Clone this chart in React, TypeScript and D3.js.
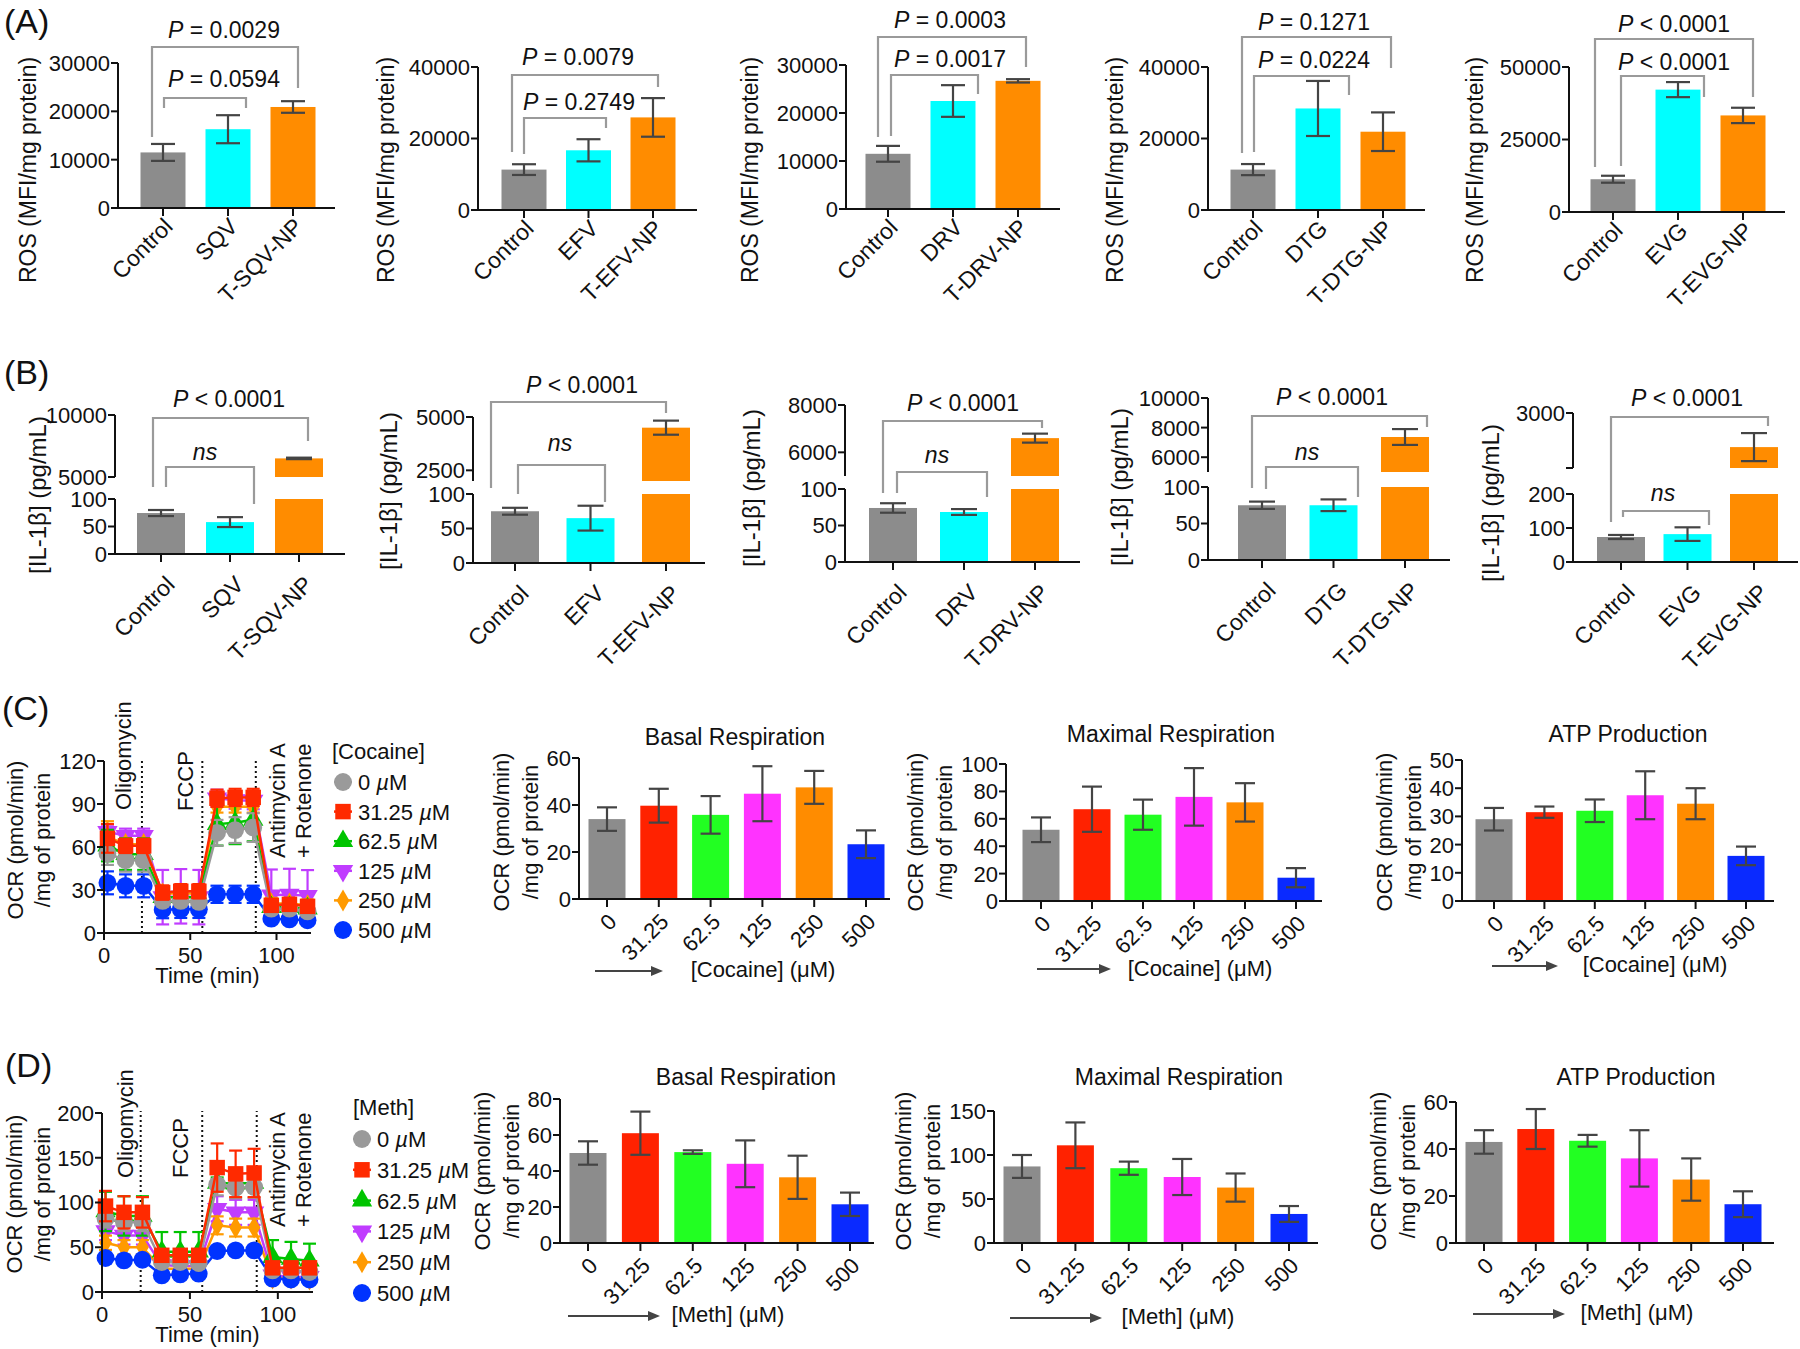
import React from "react";
import * as d3 from "d3";

const FONT = "'Liberation Sans', Arial, Helvetica, sans-serif";
const TXT = "#111";
const AXIS = "#111";
const ERR = "#444";
const BRK = "#9a9a9a";

// ---------------- (A) ROS ----------------
const rosDrugs = ["SQV", "EFV", "DRV", "DTG", "EVG"];
const rosMean = [
  [11500, 16300, 20900],
  [11300, 16700, 25900],
  [11500, 22500, 26700],
  [11300, 28400, 21900],
  [11300, 42200, 33300],
];
const rosSem = [
  [1750, 2900, 1200],
  [1500, 3100, 5400],
  [1650, 3300, 350],
  [1550, 7700, 5400],
  [1200, 2600, 2650],
];
const rosTicks = [
  [0, 10000, 20000, 30000],
  [0, 20000, 40000],
  [0, 10000, 20000, 30000],
  [0, 20000, 40000],
  [0, 25000, 50000],
];
const rosPTop = ["= 0.0029", "= 0.0079", "= 0.0003", "= 0.1271", "< 0.0001"];
const rosPLow = ["= 0.0594", "= 0.2749", "= 0.0017", "= 0.0224", "< 0.0001"];

// ---------------- (B) IL-1β ----------------
const ilMean = [
  [74.5, 58, 6500],
  [75, 65, 4500],
  [74, 68.5, 6600],
  [75, 75, 7365],
  [73.5, 82, 2380],
];
const ilSem = [
  [5.5, 9, 60],
  [5, 18, 330],
  [6.5, 4, 190],
  [5, 8, 535],
  [6, 20, 255],
];
const ilLowMax = [100, 100, 100, 100, 200];
const ilLowTicks = [
  [0, 50, 100],
  [0, 50, 100],
  [0, 50, 100],
  [0, 50, 100],
  [0, 100, 200],
];
const ilHighDomain = [
  [5000, 10000],
  [2000, 5000],
  [5000, 8000],
  [5000, 10000],
  [2000, 3000],
];
const ilHighTicks = [
  [5000, 10000],
  [2500, 5000],
  [6000, 8000],
  [6000, 8000, 10000],
  [2000, 3000],
];
const ilHighLabels = [
  ["5000", "10000"],
  ["2500", "5000"],
  ["6000", "8000"],
  ["6000", "8000", "10000"],
  ["", "3000"],
];
const ilPTop = ["< 0.0001", "< 0.0001", "< 0.0001", "< 0.0001", "< 0.0001"];

const groupColors = ["#8c8c8c", "#00ffff", "#ff8c00"];

// ---------------- (C)/(D) time course ----------------
const doseLabels = ["0", "31.25", "62.5", "125", "250", "500"];
const timePoints = [2, 12.5, 23, 34, 44.5, 55, 65.5, 76, 86.5, 97, 107.5, 118];
const injectTimes = [22, 57, 88];
const cocaineOcr = [
  [55.5, 50.8, 50.8, 22.4, 22.4, 21.7, 69.9, 71.8, 73.6, 17, 17, 15.1],
  [66, 60.8, 60.8, 28.2, 29.1, 29.1, 94, 94.6, 94.6, 19.3, 20, 18.6],
  [61, 55, 55, 25, 25, 25, 76, 77, 79, 18, 18, 17],
  [70.6, 67.8, 67.8, 25, 25.6, 25, 94, 92.7, 92.3, 26.3, 26.8, 25.9],
  [67, 62, 62, 27.5, 27.5, 27.5, 88, 88, 88, 20.5, 20.5, 19.3],
  [35, 32.9, 32.9, 16.3, 16.5, 16.5, 27, 27, 27, 10, 9.5, 8.9],
];
const cocaineOcrErr = [
  [8, 8, 8, 3, 3, 3, 9, 9, 10, 3, 3, 3],
  [10, 5, 5, 5, 5, 5, 6, 6, 6, 4, 4, 4],
  [11, 11, 11, 3, 3, 3, 15, 15, 15, 3, 3, 3],
  [5, 5, 5, 19, 19, 19, 6, 6, 6, 18, 18, 18],
  [11, 4, 4, 4, 4, 4, 4, 4, 4, 4, 4, 4],
  [8, 8, 8, 6, 6, 6, 6, 6, 6, 3, 3, 3],
];
const methOcr = [
  [82, 78, 78, 33.5, 33.5, 32.4, 120, 116.6, 117.3, 24.2, 24.2, 22.3],
  [96, 89, 89, 41, 41, 41, 139, 132, 133, 27, 27, 27],
  [90, 85, 85, 45, 45, 45, 122, 121, 122, 39, 37, 35],
  [68, 63, 63, 30, 29, 29, 93, 89, 89, 18.6, 16.8, 16.8],
  [55, 50, 50, 26, 26, 26, 74.5, 72, 72, 15, 15, 14],
  [38, 35.4, 36, 18.6, 19.7, 20.5, 45.8, 46.5, 46.5, 15, 14, 14],
];
const methOcrErr = [
  [10, 10, 10, 4, 4, 4, 12, 12, 12, 4, 4, 4],
  [17, 18, 17, 6, 6, 6, 27, 26, 27, 5, 5, 5],
  [22, 22, 22, 22, 22, 22, 6, 6, 6, 19, 19, 19],
  [10, 10, 10, 5, 5, 5, 14, 14, 14, 6, 6, 6],
  [8, 8, 8, 4, 4, 4, 10, 10, 10, 5, 5, 5],
  [4, 4, 4, 3, 3, 3, 3, 3, 3, 4, 4, 4],
];
const cocaineYTicks = [0, 30, 60, 90, 120];
const methYTicks = [0, 50, 100, 150, 200];
const timeTicks = [0, 50, 100];
const lineColors = ["#9a9a9a", "#ff2a00", "#00c400", "#c03cff", "#ff9a00", "#0033ff"];
const drawOrder = [3, 4, 2, 5, 0, 1];

// ---------------- (C)/(D) bar summaries ----------------
const barTitles = ["Basal Respiration", "Maximal Respiration", "ATP Production"];
const cocaineBars = [
  [34, 39.7, 35.8, 44.8, 47.5, 23.3],
  [52, 67, 63, 76, 72, 17],
  [29, 31.5, 32, 37.5, 34.5, 16],
];
const cocaineBarsErr = [
  [5, 7.2, 8, 11.7, 7, 5.9],
  [9, 16.5, 11, 21, 14, 7],
  [4, 2, 4, 8.5, 5.5, 3.3],
];
const methBars = [
  [50, 61, 50.5, 44, 36.5, 21.5],
  [87, 111, 85, 75, 63, 33],
  [43, 48.5, 43.5, 36, 27, 16.5],
];
const methBarsErr = [
  [6.5, 12, 1, 13, 12, 6.5],
  [13, 26, 7.5, 20.5, 16, 9],
  [5, 8.5, 2.5, 12, 9, 5.5],
];
const cocaineBarTicks = [
  [0, 20, 40, 60],
  [0, 20, 40, 60, 80, 100],
  [0, 10, 20, 30, 40, 50],
];
const methBarTicks = [
  [0, 20, 40, 60, 80],
  [0, 50, 100, 150],
  [0, 20, 40, 60],
];
const doseColors = ["#8c8c8c", "#ff2200", "#22ff22", "#ff33ff", "#ff8c00", "#0a2aff"];

// ---------------- layout ----------------
const LA = [
  { ax: 118, y0: 208, yTop: 63, c0: 163, c1: 293, end: 335, ylx: 28 },
  { ax: 478, y0: 210, yTop: 67, c0: 524, c1: 653, end: 697, ylx: 386 },
  { ax: 846, y0: 209, yTop: 65, c0: 888, c1: 1018, end: 1060, ylx: 750 },
  { ax: 1208, y0: 210, yTop: 67, c0: 1253, c1: 1383, end: 1425, ylx: 1115 },
  { ax: 1569, y0: 212, yTop: 67, c0: 1613, c1: 1743, end: 1785, ylx: 1475 },
];
const LA_BR = [
  { top: [47, 152, 298, 137, 88, 38, 224], low: [98, 164, 246, 108, 108, 87, 224] },
  { top: [75, 512, 658, 152, 87, 65, 578], low: [118, 524, 606, 154, 128, 110, 579] },
  { top: [37, 878, 1026, 137, 67, 28, 950], low: [75, 891, 978, 136, 94, 67, 950] },
  { top: [37, 1242, 1391, 153, 68, 30, 1314], low: [76, 1254, 1349, 152, 95, 68, 1314] },
  { top: [39, 1595, 1753, 167, 97, 32, 1674], low: [76, 1621, 1704, 166, 97, 70, 1674] },
];
const LB = [
  { ax: 115, y0: 554, yLowTop: 499, yUpBot: 477, yUpTop: 415, c0: 161, c1: 299, end: 345, ylx: 37, yly: 495 },
  { ax: 473, y0: 563, yLowTop: 494, yUpBot: 481, yUpTop: 417, c0: 515, c1: 666, end: 705, ylx: 388, yly: 491 },
  { ax: 845, y0: 562, yLowTop: 489, yUpBot: 476, yUpTop: 405, c0: 893, c1: 1035, end: 1080, ylx: 751, yly: 488 },
  { ax: 1208, y0: 560, yLowTop: 487, yUpBot: 472, yUpTop: 398, c0: 1262, c1: 1405, end: 1450, ylx: 1119, yly: 487 },
  { ax: 1573, y0: 562, yLowTop: 494, yUpBot: 468, yUpTop: 413, c0: 1621, c1: 1754, end: 1798, ylx: 1490, yly: 503 },
];
const LB_BR = [
  { top: [418, 153, 308, 487, 441, 407, 229], low: [467, 166, 254, 487, 504, 460, 205] },
  { top: [402, 491, 666, 488, 413, 393, 582], low: [465, 518, 605, 494, 502, 451, 560] },
  { top: [421, 883, 1042, 493, 428, 411, 963], low: [472, 897, 987, 493, 497, 463, 937] },
  { top: [416, 1252, 1427, 488, 427, 405, 1332], low: [467, 1266, 1358, 489, 497, 460, 1307] },
  { top: [417, 1611, 1768, 522, 426, 406, 1687], low: [511, 1623, 1709, 517, 525, 501, 1663] },
];
const LC = [
  { ax: 579, y0: 899, yTop: 758, c0: 607, c1: 866, end: 890, tx: 735, ty: 745, xtX: 763, xtY: 977, ar1: 595, ar2: 663, arY: 971, ylY: 832 },
  { ax: 1006, y0: 901, yTop: 764, c0: 1041, c1: 1296, end: 1322, tx: 1171, ty: 742, xtX: 1200, xtY: 976, ar1: 1037, ar2: 1111, arY: 969, ylY: 832 },
  { ax: 1462, y0: 901, yTop: 760, c0: 1494, c1: 1746, end: 1774, tx: 1628, ty: 742, xtX: 1655, xtY: 972, ar1: 1492, ar2: 1558, arY: 966, ylY: 832 },
];
const LD = [
  { ax: 560, y0: 1243, yTop: 1099, c0: 588, c1: 850, end: 874, tx: 746, ty: 1085, xtX: 728, xtY: 1322, ar1: 568, ar2: 660, arY: 1316, ylY: 1171 },
  { ax: 994, y0: 1243, yTop: 1111, c0: 1022, c1: 1289, end: 1318, tx: 1179, ty: 1085, xtX: 1178, xtY: 1324, ar1: 1010, ar2: 1102, arY: 1318, ylY: 1171 },
  { ax: 1456, y0: 1243, yTop: 1102, c0: 1484, c1: 1743, end: 1774, tx: 1636, ty: 1085, xtX: 1637, xtY: 1320, ar1: 1473, ar2: 1565, arY: 1314, ylY: 1171 },
];
const LLINE = [
  { ax: 104, y0: 933, yTop: 761, x1: 311, ylA: 15, ylB: 42, ylY: 840, timeY: 983, legX: 343, legTitleX: 332, legTitleY: 759, legY0: 782, legDy: 29.6, oligo: [123, 810], fccp: [185, 811], anti: [277, 858], rot: [303, 858] },
  { ax: 102, y0: 1292, yTop: 1113, x1: 313, ylA: 14, ylB: 42, ylY: 1194, timeY: 1342, legX: 362, legTitleX: 353, legTitleY: 1115, legY0: 1139, legDy: 30.8, oligo: [125, 1178], fccp: [180, 1178], anti: [277, 1227], rot: [303, 1227] },
];

// ---------------- helpers ----------------
function PText({ x, y, rest }: { x: number; y: number; rest: string }) {
  return (
    <text x={x} y={y} textAnchor="middle" fontSize={23}>
      <tspan fontStyle="italic">P</tspan>
      {" " + rest}
    </text>
  );
}

function Bracket({ b }: { b: number[] }) {
  const [y, xL, xR, lL, lR] = b;
  return <path d={`M${xL},${lL}V${y}H${xR}V${lR}`} fill="none" stroke={BRK} strokeWidth={2.2} />;
}

function YAxis({ x, y1, y2, scale, ticks, labels }: any) {
  return (
    <g>
      <line x1={x} x2={x} y1={y1} y2={y2} stroke={AXIS} strokeWidth={2} />
      {ticks.map((t: number, i: number) => (
        <g key={i}>
          <line x1={x - 7} x2={x} y1={scale(t)} y2={scale(t)} stroke={AXIS} strokeWidth={2} />
          {labels[i] ? (
            <text x={x - 8} y={scale(t)} dy="0.36em" textAnchor="end">
              {labels[i]}
            </text>
          ) : null}
        </g>
      ))}
    </g>
  );
}

function ErrBar({ cx, yHi, yLo, cap, color = ERR }: any) {
  return (
    <g stroke={color} strokeWidth={2.2}>
      <line x1={cx} x2={cx} y1={yHi} y2={yLo} />
      <line x1={cx - cap / 2} x2={cx + cap / 2} y1={yHi} y2={yHi} />
      <line x1={cx - cap / 2} x2={cx + cap / 2} y1={yLo} y2={yLo} />
    </g>
  );
}

function XAxisCats({ ax, end, y0, xs, labels, dx, dy, fs }: any) {
  return (
    <g>
      <line x1={ax - 1} x2={end} y1={y0} y2={y0} stroke={AXIS} strokeWidth={2} />
      {xs.map((cx: number, i: number) => (
        <g key={i}>
          <line x1={cx} x2={cx} y1={y0} y2={y0 + 8} stroke={AXIS} strokeWidth={2} />
          <text textAnchor="end" fontSize={fs} transform={`translate(${cx + dx},${y0 + dy}) rotate(-45)`}>
            {labels[i]}
          </text>
        </g>
      ))}
    </g>
  );
}

// ---------------- Row A ----------------
function RosPanel({ i }: { i: number }) {
  const L = LA[i];
  const cats = ["Control", rosDrugs[i], `T-${rosDrugs[i]}-NP`];
  const ticks = rosTicks[i];
  const y = d3.scaleLinear().domain([0, ticks[ticks.length - 1]]).range([L.y0, L.yTop]);
  const x = d3.scalePoint<string>().domain(cats).range([L.c0, L.c1]);
  const bw = 45;
  const br = LA_BR[i];
  return (
    <g>
      {cats.map((c, j) => (
        <rect key={c} x={x(c)! - bw / 2} y={y(rosMean[i][j])} width={bw} height={L.y0 - y(rosMean[i][j])} fill={groupColors[j]} />
      ))}
      {cats.map((c, j) => (
        <ErrBar key={c} cx={x(c)} yHi={y(rosMean[i][j] + rosSem[i][j])} yLo={y(rosMean[i][j] - rosSem[i][j])} cap={24} />
      ))}
      <YAxis x={L.ax} y1={L.y0 + 1} y2={L.yTop} scale={y} ticks={ticks} labels={ticks.map(String)} />
      <XAxisCats ax={L.ax} end={L.end} y0={L.y0} xs={cats.map((c) => x(c))} labels={cats} dx={11} dy={20} fs={23} />
      <text transform={`translate(${L.ylx},170) rotate(-90)`} dy="0.36em" textAnchor="middle" fontSize={23}>
        ROS (MFI/mg protein)
      </text>
      <Bracket b={br.top} />
      <Bracket b={br.low} />
      <PText x={br.top[6]} y={br.top[5]} rest={rosPTop[i]} />
      <PText x={br.low[6]} y={br.low[5]} rest={rosPLow[i]} />
    </g>
  );
}

// ---------------- Row B ----------------
function IlPanel({ i }: { i: number }) {
  const L = LB[i];
  const cats = ["Control", rosDrugs[i], `T-${rosDrugs[i]}-NP`];
  const yLow = d3.scaleLinear().domain([0, ilLowMax[i]]).range([L.y0, L.yLowTop]);
  const yUp = d3.scaleLinear().domain(ilHighDomain[i]).range([L.yUpBot, L.yUpTop]);
  const x = d3.scalePoint<string>().domain(cats).range([L.c0, L.c1]);
  const bw = 48;
  const br = LB_BR[i];
  const lowTicks = ilLowTicks[i];
  const upTicks = ilHighTicks[i];
  return (
    <g>
      {cats.map((c, j) => {
        const m = ilMean[i][j];
        const cx = x(c)!;
        if (m <= ilLowMax[i]) {
          return <rect key={c} x={cx - bw / 2} y={yLow(m)} width={bw} height={L.y0 - yLow(m)} fill={groupColors[j]} />;
        }
        return (
          <g key={c}>
            <rect x={cx - bw / 2} y={L.yLowTop} width={bw} height={L.y0 - L.yLowTop} fill={groupColors[j]} />
            <rect x={cx - bw / 2} y={yUp(m)} width={bw} height={L.yUpBot - yUp(m)} fill={groupColors[j]} />
          </g>
        );
      })}
      {cats.map((c, j) => {
        const m = ilMean[i][j];
        const s = ilSem[i][j];
        const sc = m <= ilLowMax[i] ? yLow : yUp;
        return <ErrBar key={c} cx={x(c)} yHi={sc(m + s)} yLo={sc(m - s)} cap={26} />;
      })}
      <YAxis x={L.ax} y1={L.y0 + 1} y2={L.yLowTop} scale={yLow} ticks={lowTicks} labels={lowTicks.map(String)} />
      <YAxis x={L.ax} y1={L.yUpBot} y2={L.yUpTop} scale={yUp} ticks={upTicks} labels={ilHighLabels[i]} />
      <XAxisCats ax={L.ax} end={L.end} y0={L.y0} xs={cats.map((c) => x(c))} labels={cats} dx={15} dy={32} fs={23} />
      <text transform={`translate(${L.ylx},${L.yly}) rotate(-90)`} dy="0.36em" textAnchor="middle" fontSize={24}>
        [IL-1β] (pg/mL)
      </text>
      <Bracket b={br.top} />
      <Bracket b={br.low} />
      <PText x={br.top[6]} y={br.top[5]} rest={ilPTop[i]} />
      <text x={br.low[6]} y={br.low[5]} textAnchor="middle" fontStyle="italic" fontSize={23}>
        ns
      </text>
    </g>
  );
}

// ---------------- C/D line charts ----------------
const symTypes = [d3.symbolCircle, d3.symbolSquare, d3.symbolTriangle, d3.symbolTriangle, d3.symbolDiamond, d3.symbolCircle];
const symSizes = [250, 240, 180, 180, 140, 250];
const symRot = [0, 0, 0, 180, 0, 0];

function Marker({ k, x, y }: { k: number; x: number; y: number }) {
  const p = d3.symbol().type(symTypes[k]).size(symSizes[k])()!;
  return <path d={p} transform={`translate(${x},${y}) rotate(${symRot[k]})`} fill={lineColors[k]} />;
}

function LinePanel({ which }: { which: number }) {
  const L = LLINE[which];
  const data = which === 0 ? cocaineOcr : methOcr;
  const errs = which === 0 ? cocaineOcrErr : methOcrErr;
  const yt = which === 0 ? cocaineYTicks : methYTicks;
  const x = d3.scaleLinear().domain([0, 120]).range([L.ax, L.x1]);
  const y = d3.scaleLinear().domain([0, yt[yt.length - 1]]).range([L.y0, L.yTop]);
  const line = d3
    .line<number>()
    .x((_, i) => x(timePoints[i]))
    .y((d) => y(d));
  const legTitle = which === 0 ? "[Cocaine]" : "[Meth]";
  return (
    <g>
      {injectTimes.map((t) => (
        <line key={t} x1={x(t)} x2={x(t)} y1={L.y0} y2={L.yTop - 2} stroke="#111" strokeWidth={2} strokeDasharray="2,3" />
      ))}
      {drawOrder.map((k) => (
        <g key={k}>
          {data[k].map((v, i) => (
            <ErrBar key={i} cx={x(timePoints[i])} yHi={y(v + errs[k][i])} yLo={y(Math.max(0, v - errs[k][i]))} cap={13} color={lineColors[k]} />
          ))}
          <path d={line(data[k])!} fill="none" stroke={lineColors[k]} strokeWidth={2.5} />
          {data[k].map((v, i) => (
            <Marker key={i} k={k} x={x(timePoints[i])} y={y(v)} />
          ))}
        </g>
      ))}
      <YAxis x={L.ax} y1={L.y0 + 1} y2={L.yTop} scale={y} ticks={yt} labels={yt.map(String)} />
      <line x1={L.ax - 1} x2={L.x1} y1={L.y0} y2={L.y0} stroke={AXIS} strokeWidth={2} />
      {timeTicks.map((t) => (
        <g key={t}>
          <line x1={x(t)} x2={x(t)} y1={L.y0} y2={L.y0 + 7} stroke={AXIS} strokeWidth={2} />
          <text x={x(t)} y={L.y0 + 30} textAnchor="middle">
            {t}
          </text>
        </g>
      ))}
      <text x={(L.ax + L.x1) / 2} y={L.timeY} textAnchor="middle">
        Time (min)
      </text>
      <text transform={`translate(${L.ylA},${L.ylY}) rotate(-90)`} dy="0.36em" textAnchor="middle">
        OCR (pmol/min)
      </text>
      <text transform={`translate(${L.ylB},${L.ylY}) rotate(-90)`} dy="0.36em" textAnchor="middle">
        /mg of protein
      </text>
      <text transform={`translate(${L.oligo[0]},${L.oligo[1]}) rotate(-90)`} dy="0.36em">
        Oligomycin
      </text>
      <text transform={`translate(${L.fccp[0]},${L.fccp[1]}) rotate(-90)`} dy="0.36em">
        FCCP
      </text>
      <text transform={`translate(${L.anti[0]},${L.anti[1]}) rotate(-90)`} dy="0.36em">
        Antimycin A
      </text>
      <text transform={`translate(${L.rot[0]},${L.rot[1]}) rotate(-90)`} dy="0.36em">
        + Rotenone
      </text>
      <text x={L.legTitleX} y={L.legTitleY}>
        {legTitle}
      </text>
      {doseLabels.map((d, k) => {
        const yy = L.legY0 + k * L.legDy;
        return (
          <g key={d}>
            <line x1={L.legX - 9} x2={L.legX + 9} y1={yy} y2={yy} stroke={lineColors[k]} strokeWidth={2.5} />
            <Marker k={k} x={L.legX} y={yy} />
            <text x={L.legX + 15} y={yy} dy="0.36em">
              {d + " "}
              <tspan fontStyle="italic">µ</tspan>M
            </text>
          </g>
        );
      })}
    </g>
  );
}

// ---------------- C/D bar charts ----------------
function DoseBarPanel({ row, i }: { row: number; i: number }) {
  const L = row === 0 ? LC[i] : LD[i];
  const vals = row === 0 ? cocaineBars[i] : methBars[i];
  const errs = row === 0 ? cocaineBarsErr[i] : methBarsErr[i];
  const ticks = row === 0 ? cocaineBarTicks[i] : methBarTicks[i];
  const drug = row === 0 ? "[Cocaine]" : "[Meth]";
  const y = d3.scaleLinear().domain([0, ticks[ticks.length - 1]]).range([L.y0, L.yTop]);
  const x = d3.scalePoint<string>().domain(doseLabels).range([L.c0, L.c1]);
  const bw = 37;
  const maxChars = d3.max(ticks, (t) => String(t).length)!;
  const yl2 = L.ax - 8 - maxChars * 12.2 - 17;
  const yl1 = yl2 - 29;
  return (
    <g>
      {doseLabels.map((c, j) => (
        <rect key={c} x={x(c)! - bw / 2} y={y(vals[j])} width={bw} height={L.y0 - y(vals[j])} fill={doseColors[j]} />
      ))}
      {doseLabels.map((c, j) => (
        <ErrBar key={c} cx={x(c)} yHi={y(vals[j] + errs[j])} yLo={y(vals[j] - errs[j])} cap={20} />
      ))}
      <YAxis x={L.ax} y1={L.y0 + 1} y2={L.yTop} scale={y} ticks={ticks} labels={ticks.map(String)} />
      <XAxisCats ax={L.ax} end={L.end} y0={L.y0} xs={doseLabels.map((c) => x(c))} labels={doseLabels} dx={11} dy={24} fs={22} />
      <text x={L.tx} y={L.ty} textAnchor="middle" fontSize={23}>
        {barTitles[i]}
      </text>
      <text x={L.xtX} y={L.xtY} textAnchor="middle">
        {drug} (μM)
      </text>
      <line x1={L.ar1} x2={L.ar2 - 8} y1={L.arY} y2={L.arY} stroke="#444" strokeWidth={2} />
      <path d={`M${L.ar2},${L.arY}l-12,-5v10z`} fill="#444" />
      <text transform={`translate(${yl1},${L.ylY}) rotate(-90)`} dy="0.36em" textAnchor="middle">
        OCR (pmol/min)
      </text>
      <text transform={`translate(${yl2},${L.ylY}) rotate(-90)`} dy="0.36em" textAnchor="middle">
        /mg of protein
      </text>
    </g>
  );
}

export default function App() {
  return (
    <svg
      width={1800}
      height={1349}
      viewBox="0 0 1800 1349"
      style={{ position: "absolute", left: 0, top: 0, display: "block" }}
      fontFamily={FONT}
      fontSize={22}
      fill={TXT}
    >
      <rect x={0} y={0} width={1800} height={1349} fill="#fff" />
      <text x={4} y={33} fontSize={34}>(A)</text>
      <text x={4} y={384} fontSize={34}>(B)</text>
      <text x={2} y={720} fontSize={34}>(C)</text>
      <text x={5} y={1077} fontSize={34}>(D)</text>
      {rosDrugs.map((d, i) => (
        <RosPanel key={"a" + d} i={i} />
      ))}
      {rosDrugs.map((d, i) => (
        <IlPanel key={"b" + d} i={i} />
      ))}
      <LinePanel which={0} />
      <LinePanel which={1} />
      {barTitles.map((t, i) => (
        <DoseBarPanel key={"c" + t} row={0} i={i} />
      ))}
      {barTitles.map((t, i) => (
        <DoseBarPanel key={"d" + t} row={1} i={i} />
      ))}
    </svg>
  );
}
